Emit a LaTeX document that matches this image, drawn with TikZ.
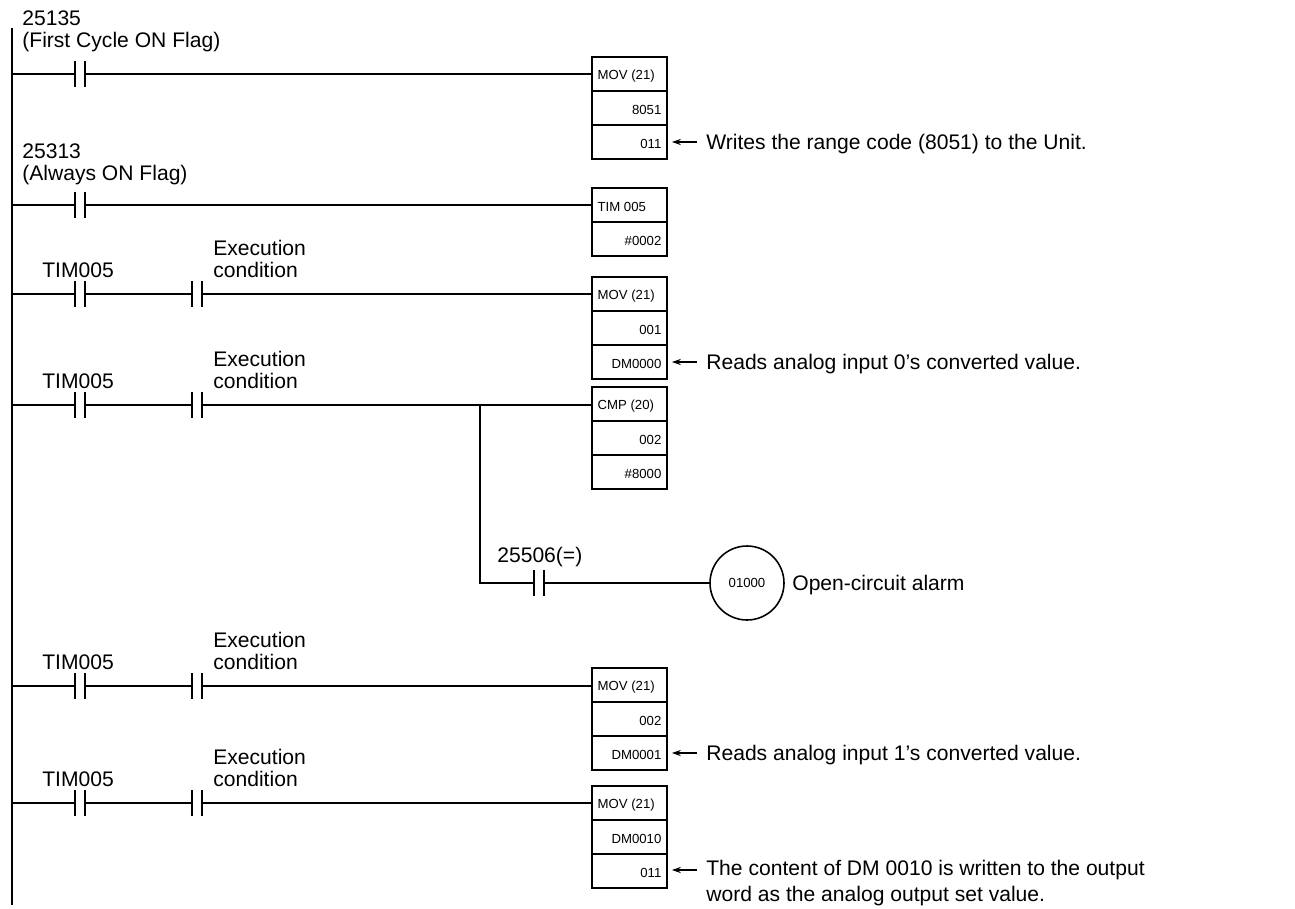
\documentclass[tikz,border=0pt]{standalone}
\usepackage{fontspec}
\setmainfont{Liberation Sans}
\usetikzlibrary{arrows.meta}
\tikzset{
  wire/.style={line width=0.9pt},
  lbl/.style={font=\fontsize{12}{14.5}\selectfont, inner sep=0pt},
  cell/.style={font=\fontsize{7.5}{8}\selectfont, inner sep=3pt},
  note/.style={-{Stealth[length=5pt,width=3.5pt]}, line width=0.6pt},
}
% contact at (x,y)
\newcommand{\contact}[2]{%
  \fill[white] (#1-5,#2-13) rectangle (#1+5,#2+13);
  \draw[wire] (#1-5,#2-13) -- (#1-5,#2+13) (#1+5,#2-13) -- (#1+5,#2+13);}
\begin{document}
\begin{tikzpicture}[x=0.02cm, y=-0.02cm]
  \useasboundingbox (0,0) rectangle (1295,909);
  \draw[wire] (12,28) -- (12,905);

  % rungs
  \foreach \y in {74,205,294,405,686,803}
    \draw[wire] (12,\y) -- (592,\y);
  \draw[wire] (480,405) -- (480,583) -- (710,583);

  % contacts
  \foreach \y in {74,205,294,405,686,803}
    \contact{80}{\y};
  \foreach \y in {294,405,686,803}
    \contact{197}{\y};
  \contact{539}{583};

  % boxes: top, rows, header, values
  \foreach \t/\n/\h/\a/\b in {57/3/MOV (21)/8051/011, 188/2/TIM 005/\#0002/,
      277/3/MOV (21)/001/DM0000, 387/3/CMP (20)/002/\#8000,
      668/3/MOV (21)/002/DM0001, 786/3/MOV (21)/DM0010/011}{
    \draw[wire] (592,\t) rectangle (667,\t+34*\n);
    \foreach \k in {1,...,\n}
      \draw[wire] (592,\t+34*\k) -- (667,\t+34*\k);
    \node[cell, anchor=west] at (592,\t+19) {\h};
    \node[cell, anchor=east] at (667,\t+53) {\a};
    \node[cell, anchor=east] at (667,\t+87) {\b};
  }

  % coil
  \node[circle, draw, line width=0.9pt, fill=white, minimum size=74*0.02cm,
        cell] (coil) at (747,583) {01000};
  \node[lbl, anchor=west] (alarm) at (792,585) {Open-circuit alarm};

  % labels
  \node[lbl, anchor=west] at (22,18) {25135};
  \node[lbl, anchor=west] at (22,42) {(First Cycle ON Flag)};
  \node[lbl, anchor=west] at (22,151) {25313};
  \node[lbl, anchor=west] at (22,175) {(Always ON Flag)};
  \node[lbl, anchor=west] at (497,557) {25506(=)};
  \foreach \y in {294,405,686,803}{
    \node[lbl] at (78,\y-24) {TIM005};
    \node[lbl, anchor=west] at (213,\y-46) {Execution};
    \node[lbl, anchor=west] at (213,\y-24) {condition};
  }

  % notes
  \foreach \y/\txt in {142/Writes the range code (8051) to the Unit.,
      362/Reads analog input 0’s converted value.,
      753/Reads analog input 1’s converted value.}{
    \draw[note] (697,\y) -- (672,\y);
    \node[lbl, anchor=west] at (706,\y+2) {\txt};
  }
  \draw[note] (697,870) -- (672,870);
  \node[lbl, anchor=north west, align=left] at (706,860)
    {The content of DM 0010 is written to the output\\word as the analog output set value.};
\end{tikzpicture}
\end{document}
